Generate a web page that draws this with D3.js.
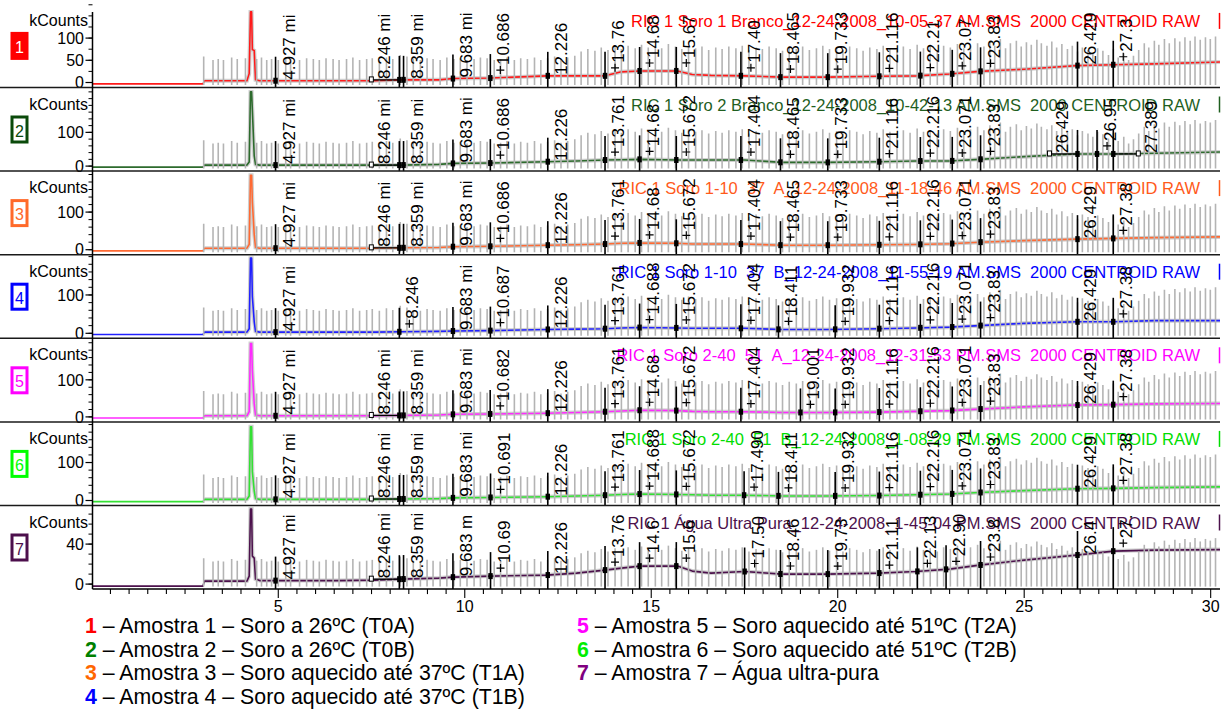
<!DOCTYPE html>
<html>
<head>
<meta charset="utf-8">
<script src="https://cdn.jsdelivr.net/npm/d3@7"></script>
<style>
  html, body { margin: 0; padding: 0; background: #fff; }
  svg { display: block; font-family: "Liberation Sans", Arial, sans-serif; }
  .ttl { white-space: pre; }
</style>
</head>
<body>
<svg id="chart" width="1231" height="713"></svg>
<script>
// ---- retention-time knots shared by all chromatogram traces (min) ----
const minutes = [0, 2.98, 3.02, 4.16, 4.22, 4.255, 4.285, 4.305, 4.355, 4.39, 4.5, 6.6, 7.6, 8.3, 9.3, 9.7,
  10.7, 12.2, 13.0, 13.76, 14.2, 14.7, 15.7, 16.1, 16.6, 17.5, 18.5, 19.7, 21.1, 22.1, 23.0, 23.8,
  25.0, 26.4, 27.4, 28.5, 30.25];

// ---- RIC intensity (kCounts) at each knot, one array per sample ----
const ric1 = [-3, -3, 4, 4, 20, 159, 159, 74, 72, 6, 4, 4, 4, 6, 6, 9, 10, 15, 15, 15, 24, 26, 26, 18, 16, 15, 12, 12, 14, 15, 19, 25, 30, 38, 40, 42, 46];
const ric2 = [-3, -3, 3, 3, 12, 220, 220, 166, 30, 5, 3, 3, 3, 3, 5, 8, 9, 13, 15, 18, 19, 20, 18, 18, 18, 18, 11, 11, 13, 15, 15, 20, 28, 36, 36, 38, 42];
const ric3 = [-3, -3, 4, 4, 14, 198, 198, 127, 40, 6, 4, 4, 4, 5, 6, 8, 9, 12, 13, 15, 17, 18, 17, 15, 15, 15, 12, 12, 13, 14, 16, 20, 24, 28, 30, 32, 34];
const ric4 = [-3, -3, 3, 3, 12, 196, 196, 96, 30, 5, 3, 3, 3, 4, 5, 6, 7, 10, 11, 12, 14, 15, 14, 13, 13, 13, 10, 10, 12, 14, 16, 20, 26, 30, 30, 33, 33];
const ric5 = [-3, -3, 3, 3, 14, 198, 198, 125, 35, 5, 3, 3, 3, 4, 5, 7, 8, 10, 12, 14, 16, 18, 17, 15, 14, 14, 12, 12, 13, 15, 17, 21, 27, 32, 33, 35, 36];
const ric6 = [-3, -3, 3, 3, 12, 194, 194, 76, 25, 5, 3, 3, 3, 4, 5, 7, 8, 10, 12, 14, 16, 17, 16, 15, 14, 14, 12, 12, 13, 15, 17, 21, 26, 31, 32, 34, 36];
const ric7 = [-2, -2, 3, 3, 8, 75, 75, 28, 26, 5, 3.5, 3.5, 4, 5, 6, 7, 8, 9, 11, 14, 16, 18, 18, 13, 11, 12.6, 10, 10, 11, 12.6, 15, 19, 24, 29, 33, 34, 34.5];

// full-scale value of each panel (kCounts) and its axis ticks
const fullScale = [177, 233, 209, 205, 212, 207, 78.6];
const yLabelValues = [[0, 50, 100], [0, 100], [0, 100], [0, 100], [0, 100], [0, 100], [0, 40]];
const yMinorStep = [25, 20, 20, 20, 20, 20, 10];

// ---- integrated peaks: [retention time, apex marked with "+"] ----
const peaks1 = [[4.927,0],[8.246,0],[8.359,0],[9.683,0],[10.686,1],[12.226,0],[13.761,1],[14.688,1],[15.672,1],[17.404,1],[18.465,1],[19.733,1],[21.116,1],[22.216,1],[23.071,1],[23.830,1],[26.429,0],[27.388,1]];
const peaks2 = [[4.927,0],[8.246,0],[8.359,0],[9.683,0],[10.686,1],[12.226,0],[13.761,1],[14.688,1],[15.672,1],[17.404,1],[18.465,1],[19.733,1],[21.116,1],[22.216,1],[23.071,1],[23.830,1],[26.429,0],[26.953,1],[27.389,0]];
const peaks3 = [[4.927,0],[8.246,0],[8.359,0],[9.683,0],[10.686,1],[12.226,0],[13.761,1],[14.688,1],[15.672,1],[17.404,1],[18.465,1],[19.733,1],[21.116,1],[22.216,1],[23.071,1],[23.830,1],[26.429,0],[27.388,1]];
const peaks4 = [[4.927,0],[8.246,1],[9.683,0],[10.687,1],[12.226,0],[13.761,1],[14.688,1],[15.672,1],[17.404,1],[18.411,1],[19.932,1],[21.116,1],[22.216,1],[23.071,1],[23.830,1],[26.429,0],[27.388,1]];
const peaks5 = [[4.927,0],[8.246,0],[8.359,0],[9.683,0],[10.682,1],[12.226,0],[13.761,1],[14.688,1],[15.672,1],[17.404,1],[19.001,1],[19.932,1],[21.116,1],[22.216,1],[23.071,1],[23.830,1],[26.429,0],[27.388,1]];
const peaks6 = [[4.927,0],[8.246,0],[8.359,0],[9.683,0],[10.691,1],[12.226,0],[13.761,1],[14.688,1],[15.672,1],[17.490,1],[18.411,1],[19.932,1],[21.116,1],[22.216,1],[23.071,1],[23.830,1],[26.429,0],[27.388,1]];
const peaks7 = [[4.927,0],[8.246,0],[8.359,0],[9.683,0],[10.691,1],[12.226,0],[13.761,1],[14.688,1],[15.672,1],[17.504,1],[18.465,1],[19.733,1],[21.116,1],[22.136,1],[22.905,1],[23.830,1],[26.429,0],[27.388,1]];

// ---- scan segment bars: [time (min), relative height of panel] ----
const scanBars = [
  [3.00,.34],[3.25,.30],[3.39,.31],[3.53,.30],[3.75,.33],[3.90,.31],[4.12,.32],[4.42,.31],[4.55,.33],[4.69,.30],
  [4.82,.31],[5.00,.30],[5.20,.32],[5.33,.31],[5.57,.30],[5.76,.32],[5.94,.31],[6.10,.30],[6.28,.32],[6.47,.31],
  [6.63,.30],[6.83,.31],[7.00,.33],[7.18,.30],[7.37,.31],[7.52,.32],[7.71,.30],[7.90,.33],[8.07,.31],[8.27,.36],
  [8.45,.34],[8.62,.31],[8.81,.30],[8.99,.32],[9.15,.31],[9.34,.30],[9.52,.33],[9.71,.31],[9.88,.32],[10.06,.30],
  [10.25,.31],[10.42,.33],[10.60,.32],[10.79,.30],[10.96,.31],[11.13,.33],[11.33,.30],[11.50,.32],[11.68,.31],[11.87,.33],
  [12.04,.30],[12.22,.32],[12.41,.34],[12.58,.31],[12.76,.33],[12.95,.35],
  [13.12,.40],[13.30,.43],[13.49,.41],[13.66,.45],[13.84,.42],[14.03,.46],[14.20,.43],[14.38,.47],[14.57,.44],[14.74,.48],
  [14.92,.45],[15.11,.47],[15.28,.44],[15.46,.49],[15.65,.46],[15.82,.43],[16.00,.47],[16.19,.44],[16.36,.46],[16.54,.42],
  [16.73,.45],[16.90,.43],[17.08,.46],[17.27,.44],[17.44,.47],[17.62,.42],[17.81,.45],[17.98,.43],[18.16,.46],[18.35,.44],
  [18.52,.41],[18.70,.45],[18.89,.43],[19.06,.46],[19.24,.42],[19.43,.44],[19.60,.47],[19.78,.43],[19.97,.45],[20.14,.42],
  [20.32,.46],[20.51,.44],[20.68,.41],[20.86,.45],[21.05,.43],[21.22,.47],[21.40,.44],[21.59,.42],[21.76,.46],[21.94,.43],
  [22.13,.48],[22.30,.44],[22.48,.46],[22.67,.42],[22.84,.47],[23.02,.45],[23.21,.49],[23.38,.44],[23.56,.47],[23.75,.50],
  [23.92,.46],
  [24.08,.52],[24.21,.47],[24.36,.55],[24.50,.44],[24.63,.50],[24.79,.53],[24.92,.46],[25.06,.51],[25.19,.48],[25.34,.54],
  [25.46,.50],[25.61,.47],[25.74,.52],[25.87,.45],[26.01,.49],[26.16,.43],[26.29,.47],[26.43,.40],[26.56,.45],[26.71,.42],
  [26.84,.38],[26.97,.44],[27.11,.41],[27.26,.36],[27.39,.43],[27.52,.33],[27.67,.38],[27.80,.30],[27.93,.35],[28.07,.42],
  [28.22,.50],[28.34,.45],[28.49,.53],[28.61,.48],[28.76,.55],[28.89,.50],[29.04,.56],[29.17,.52],[29.31,.57],[29.45,.53],
  [29.58,.58],[29.72,.54],[29.86,.57],[29.99,.55],[30.13,.58]
];

// ---- run titles, colours and legend ----
const runTitles = [
  "RIC 1 Soro 1 Branco_12-24-2008_10-05-37 AM.SMS  2000 CENTROID RAW",
  "RIC 1 Soro 2 Branco_12-24-2008_10-42-13 AM.SMS  2000 CENTROID RAW",
  "RIC 1 Soro 1-10  37  A_12-24-2008_11-18-46 AM.SMS  2000 CENTROID RAW",
  "RIC 1 Soro 1-10  37  B_12-24-2008_11-55-19 AM.SMS  2000 CENTROID RAW",
  "RIC 1 Soro 2-40  51  A_12-24-2008_12-31-53 PM.SMS  2000 CENTROID RAW",
  "RIC 1 Soro 2-40  51  B_12-24-2008_1-08-29 PM.SMS  2000 CENTROID RAW",
  "RIC 1 Água Ultra Pura_12-24-2008_1-45-04 PM.SMS  2000 CENTROID RAW"
];
const traceColors = ["#ff1a1a", "#2d6b2d", "#ff6a33", "#2020ff", "#ff2bff", "#33e033", "#4c114c"];
const titleColors = ["#ff0000", "#1f5f1f", "#ff5a1a", "#0000ff", "#ff00ff", "#00dd00", "#4c114c"];
const boxColors   = ["#ff0000", "#0a4a0a", "#ff6a2a", "#0000ff", "#ff00ff", "#00ff00", "#4c0f4c"];
const legendNumbers = ["1", "2", "3", "4", "5", "6", "7"];
const legendTexts = [
  "Amostra 1 – Soro a 26ºC (T0A)",
  "Amostra 2 – Soro a 26ºC (T0B)",
  "Amostra 3 – Soro aquecido até 37ºC (T1A)",
  "Amostra 4 – Soro aquecido até 37ºC (T1B)",
  "Amostra 5 – Soro aquecido até 51ºC (T2A)",
  "Amostra 6 – Soro aquecido até 51ºC (T2B)",
  "Amostra 7 – Água ultra-pura"
];
const legendColors = ["#ff0000", "#008000", "#ff6600", "#0000ff", "#ff00ff", "#00ee00", "#800080"];
const xTickLabels = [5, 10, 15, 20, 25, 30];

const traces = [ric1, ric2, ric3, ric4, ric5, ric6, ric7];
const peakSets = [peaks1, peaks2, peaks3, peaks4, peaks5, peaks6, peaks7];

// ---- layout ----
const svg = d3.select("#chart");
const axisX = 92.5, plotRight = 1220;
const x = d3.scaleLinear().domain([0, 30.25]).range([91.8, plotRight]);
const panelH = 83.6, firstBottom = 87.5;
const defs = svg.append("defs");

traces.forEach((vals, i) => {
  const B = firstBottom + panelH * i;
  const T = B - panelH;
  const y = d3.scaleLinear().domain([0, fullScale[i]]).range([B - 5, T]);
  const level = d3.scaleLinear().domain(minutes).range(vals);   // piecewise trace value
  const yAt = t => y(level(t));

  defs.append("clipPath").attr("id", "cp" + i).append("rect")
    .attr("x", axisX).attr("y", T).attr("width", plotRight - axisX).attr("height", panelH);

  const g = svg.append("g");

  // run title
  g.append("text").attr("class", "ttl")
    .attr("x", 1200).attr("y", T + 23).attr("text-anchor", "end")
    .attr("font-size", 16.5).attr("fill", titleColors[i]).text(runTitles[i]);
  g.append("line").attr("x1", 1219.5).attr("x2", 1219.5).attr("y1", T + 9).attr("y2", T + 25)
    .attr("stroke", titleColors[i]).attr("stroke-width", 1.5);

  const pg = g.append("g").attr("clip-path", `url(#cp${i})`);
  const line = d3.line().x(d => x(d[0])).y(d => y(d[1]));
  const pts = minutes.map((t, k) => [t, vals[k]]);

  // light raw-signal band and the RIC trace
  pg.append("path").attr("d", line(pts.filter(d => d[0] >= 3.02)))
    .attr("fill", "none").attr("stroke", "#cfcfcf").attr("stroke-width", 4);
  pg.append("path").attr("d", line(pts))
    .attr("fill", "none").attr("stroke", traceColors[i]).attr("stroke-width", 1.6)
    .attr("stroke-linejoin", "round");

  // scan segment bars
  pg.selectAll("line.scan").data(scanBars).join("line")
    .attr("x1", d => x(d[0])).attr("x2", d => x(d[0]))
    .attr("y1", B - 2.5).attr("y2", d => B - 2.5 - d[1] * panelH)
    .attr("stroke", "#b4b4b4").attr("stroke-width", 1.6);

  // label placement: spread labels of neighbouring peaks
  const peaks = peakSets[i].map(p => ({ t: p[0], plus: p[1], lx: x(p[0]) + 19, shift: 0 }));
  const base = peaks.map(p => p.lx);
  peaks.forEach((p, k) => {
    const gapNext = k < peaks.length - 1 ? base[k + 1] - base[k] : 999;
    const gapPrev = k > 0 ? base[k] - base[k - 1] : 999;
    const gapPrev2 = k > 1 ? base[k - 1] - base[k - 2] : 999;
    if (gapNext < 20 && gapPrev >= 20) p.shift = -28;
    else if (gapPrev < 20 && gapPrev2 < 20) p.shift = 25;
    p.lx += p.shift;
  });

  peaks.forEach(p => {
    const px = x(p.t), py = yAt(p.t);
    if (p.shift !== 0) {
      const sx = p.lx - 19;
      g.append("line").attr("x1", Math.min(sx, px)).attr("x2", Math.max(sx, px))
        .attr("y1", py).attr("y2", py).attr("stroke", "#000").attr("stroke-width", 1.3);
      g.append("rect").attr("x", sx - 2).attr("y", py - 3).attr("width", 4).attr("height", 5)
        .attr("fill", "#fff").attr("stroke", "#000").attr("stroke-width", 1);
    }
    g.append("line").attr("x1", px).attr("x2", px)
      .attr("y1", Math.max(T + 2, py - 24)).attr("y2", B)
      .attr("stroke", "#000").attr("stroke-width", 1.6);
    g.append("rect").attr("x", px - 2.2).attr("y", py - 3).attr("width", 4.4).attr("height", 6)
      .attr("fill", "#000");
    if (p.plus) {
      const cx = px + 10, cy = py - 8;
      g.append("path").attr("d", `M${cx - 4},${cy}H${cx + 4}M${cx},${cy - 4}V${cy + 4}`)
        .attr("stroke", "#000").attr("stroke-width", 1.2);
    }
  });

  // retention-time labels, shortened to what fits below the panel head
  const headroom = T + 7;
  peaks.forEach(p => {
    const start = yAt(p.t) - (p.plus ? 13 : 1);
    const room = start - headroom;
    const lab = g.append("text")
      .attr("transform", `translate(${p.lx},${start}) rotate(-90)`)
      .attr("font-size", 17).attr("fill", "#000");
    let s = p.t.toFixed(3) + " min";
    lab.text(s);
    while (s.length > 0 && lab.node().getComputedTextLength() > room) {
      s = s.slice(0, -1);
      lab.text(s);
    }
    if (!s.trim()) lab.remove();
  });

  // y axis ticks and labels
  const minor = d3.range(0, fullScale[i] + 0.001, yMinorStep[i]);
  g.selectAll("line.ymin").data(minor).join("line")
    .attr("x1", axisX - 4).attr("x2", axisX).attr("y1", d => y(d)).attr("y2", d => y(d))
    .attr("stroke", "#000").attr("stroke-width", 1);
  g.selectAll("line.ymaj").data(yLabelValues[i]).join("line")
    .attr("x1", axisX - 7).attr("x2", axisX).attr("y1", d => y(d)).attr("y2", d => y(d))
    .attr("stroke", "#000").attr("stroke-width", 1.2);
  g.selectAll("text.ylab").data(yLabelValues[i]).join("text")
    .attr("x", 84).attr("y", d => y(d)).attr("dy", "0.36em").attr("text-anchor", "end")
    .attr("font-size", 16).attr("fill", "#000").text(d => d);
  g.append("text").attr("x", 88).attr("y", T + 22).attr("text-anchor", "end")
    .attr("font-size", 16).attr("fill", "#000").text("kCounts");

  // trace number box
  if (i === 0) {
    g.append("rect").attr("x", 10.5).attr("y", T + 28).attr("width", 18).attr("height", 28)
      .attr("fill", boxColors[i]);
    g.append("text").attr("x", 19.5).attr("y", T + 49).attr("text-anchor", "middle")
      .attr("font-size", 16).attr("fill", "#fff").text(legendNumbers[i]);
  } else {
    g.append("rect").attr("x", 12).attr("y", T + 29.5).attr("width", 15).attr("height", 25)
      .attr("fill", "#fff").attr("stroke", boxColors[i]).attr("stroke-width", 3);
    g.append("text").attr("x", 19.5).attr("y", T + 49).attr("text-anchor", "middle")
      .attr("font-size", 16).attr("fill", boxColors[i]).text(legendNumbers[i]);
  }
});

// panel separators and frame
const bottoms = d3.range(7).map(k => firstBottom + panelH * k);
svg.selectAll("line.sep").data(bottoms.slice(0, 6)).join("line")
  .attr("x1", 0).attr("x2", plotRight).attr("y1", d => d).attr("y2", d => d)
  .attr("stroke", "#1a1a1a").attr("stroke-width", 1.5);
const axisY = bottoms[6];
svg.append("line").attr("x1", axisX).attr("x2", axisX).attr("y1", 12).attr("y2", axisY)
  .attr("stroke", "#000").attr("stroke-width", 1.5);
svg.append("line").attr("x1", axisX).attr("x2", plotRight).attr("y1", axisY).attr("y2", axisY)
  .attr("stroke", "#000").attr("stroke-width", 1.5);

// time axis
const xMinor = d3.range(0.5, 30.01, 0.5);
svg.selectAll("line.xmin").data(xMinor).join("line")
  .attr("x1", d => x(d)).attr("x2", d => x(d)).attr("y1", axisY).attr("y2", d => axisY + (d % 5 === 0 ? 9 : 5))
  .attr("stroke", "#000").attr("stroke-width", 1.1);
svg.selectAll("text.xlab").data(xTickLabels).join("text")
  .attr("x", d => x(d)).attr("y", 612).attr("text-anchor", "middle")
  .attr("font-size", 16).attr("fill", "#000").text(d => d);

// legend
const legend = svg.append("g").attr("font-size", 21.3);
legendTexts.forEach((txt, k) => {
  const col = k < 4 ? 0 : 1;
  const row = k < 4 ? k : k - 4;
  const t = legend.append("text")
    .attr("x", col === 0 ? 85 : 577).attr("y", 633 + row * 23.5).attr("fill", "#000");
  t.append("tspan").attr("font-weight", "bold").attr("fill", legendColors[k]).text(legendNumbers[k]);
  t.append("tspan").text(" – " + txt);
});
</script>
</body>
</html>
